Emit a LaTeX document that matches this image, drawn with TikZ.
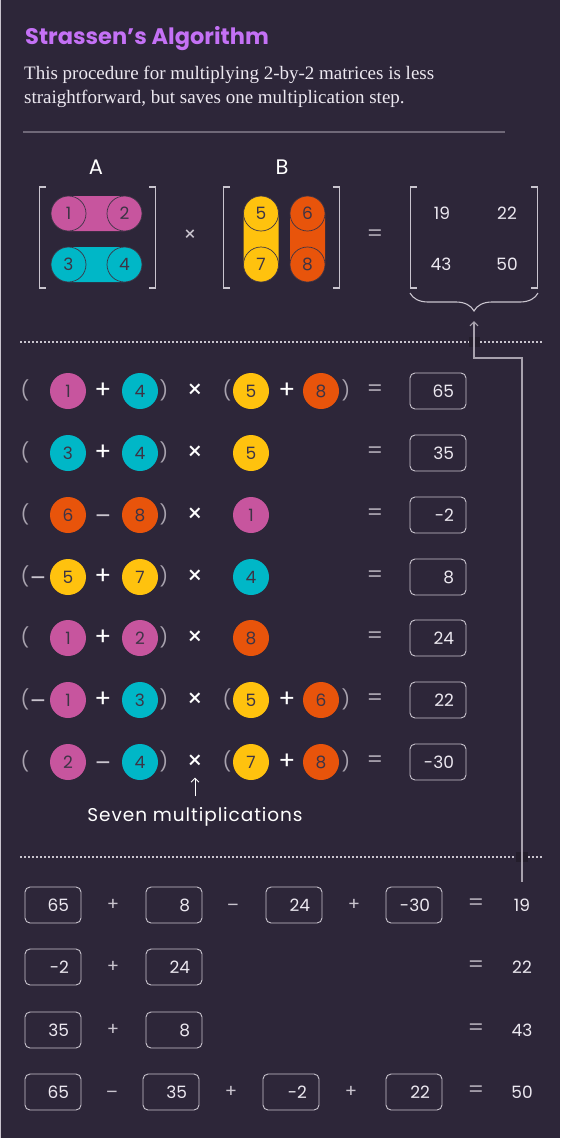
\documentclass[tikz,border=0pt]{standalone}
\usepackage{fontspec}
\setmainfont{Liberation Serif}
\newfontfamily\pop{Poppins}
\usetikzlibrary{arrows.meta,decorations.pathreplacing}
\definecolor{bg}{HTML}{2D2639}
\definecolor{mag}{HTML}{C7559E}
\definecolor{cya}{HTML}{00B7C7}
\definecolor{yel}{HTML}{FFC20E}
\definecolor{ora}{HTML}{E8540B}
\definecolor{ttl}{HTML}{C471F5}
\definecolor{txt}{HTML}{ECE8F0}
\definecolor{dig}{HTML}{3D3445}
\definecolor{lgr}{HTML}{C9C4CE}
\definecolor{mgr}{HTML}{A8A2AE}
\definecolor{rule}{HTML}{6F6878}
\definecolor{dsq}{HTML}{241E2C}
\begin{document}
\begin{tikzpicture}[x=1pt,y=-1pt,
  crc/.style={circle,minimum size=36,inner sep=0,text=dig,font=\pop\fontsize{17}{17}\selectfont},
  pc/.style={circle,minimum size=35,inner sep=0,draw=dig,line width=0.7,text=dig,font=\pop\fontsize{17}{17}\selectfont},
  op/.style={text=white,inner sep=0,font=\pop\fontsize{25}{25}\selectfont},
  mop/.style={text=lgr,inner sep=0,yshift=-4.5pt,font=\pop\fontsize{24}{24}\selectfont},
  bop/.style={text=lgr,inner sep=0,font=\pop\fontsize{18}{18}\selectfont},
  bmop/.style={bop,yshift=-3.2pt},
  eq/.style={text=mgr,inner sep=0,font=\pop\fontsize{23}{23}\selectfont},
  par/.style={text=mgr,inner sep=0,font=\pop\fontsize{19}{19}\selectfont},
  num/.style={text=txt,inner sep=0,font=\pop\fontsize{17}{17}\selectfont},
  box/.style={draw=lgr,line width=0.9,rounded corners=5,minimum height=36,text width=32,inner xsep=12,inner ysep=0,align=right,text=txt,font=\pop\fontsize{17}{17}\selectfont},
  brk/.style={draw=lgr,line width=1.3},
  conn/.style={draw=mgr,line width=1.2},
  dots/.style={draw=lgr,line width=1.6,dash pattern=on 1.6pt off 2.4pt}
]
\fill[bg] (0,0) rectangle (560,1138);
\useasboundingbox (0,0) rectangle (560,1138);
\fill[lgr] (0,0) rectangle (1.3,1138);

% title
\node[anchor=base west,inner sep=0,text=ttl,font=\pop\bfseries\fontsize{22.5}{22.5}\selectfont] (title) at (25,44) {Strassen’s Algorithm};
\node[anchor=base west,inner sep=0,text=txt,font=\fontsize{19}{24}\selectfont] (sub1) at (24,79) {This procedure for multiplying 2-by-2 matrices is less};
\node[anchor=base west,inner sep=0,text=txt,font=\fontsize{19}{24}\selectfont] (sub2) at (24,103) {straightforward, but saves one multiplication step.};
\draw[rule,line width=1.5] (23,132) -- (505,132);

% matrix A
\node[text=white,inner sep=0,font=\pop\fontsize{21}{21}\selectfont] (la) at (96,167) {A};
\node[text=white,inner sep=0,font=\pop\fontsize{21}{21}\selectfont] (lb) at (282,167) {B};
\draw[brk] (46,187) -- (39.5,187) -- (39.5,288) -- (46,288);
\draw[brk] (149,187) -- (155.5,187) -- (155.5,288) -- (149,288);
\fill[mag,rounded corners=17.5] (51,196) rectangle (142,231);
\fill[cya,rounded corners=17.5] (51,247) rectangle (142,282);
\node[pc] (a1) at (68.5,213.5) {1};
\node[pc] (a2) at (124.5,213.5) {2};
\node[pc] (a3) at (68.5,264.5) {3};
\node[pc] (a4) at (124.5,264.5) {4};
\node[text=lgr,inner sep=0,font=\pop\fontsize{20}{20}\selectfont] (mx) at (190,236) {×};
% matrix B
\draw[brk] (230,187) -- (223.5,187) -- (223.5,288) -- (230,288);
\draw[brk] (333,187) -- (339.5,187) -- (339.5,288) -- (333,288);
\fill[yel,rounded corners=17.5] (243.5,196) rectangle (278.5,282);
\fill[ora,rounded corners=17.5] (290,196) rectangle (325,282);
\node[pc] (b5) at (261,213.5) {5};
\node[pc] (b7) at (261,264.5) {7};
\node[pc] (b6) at (307.5,213.5) {6};
\node[pc] (b8) at (307.5,264.5) {8};
\node[eq] (meq) at (375,236) {=};
% result
\draw[brk] (417,187) -- (410.5,187) -- (410.5,288) -- (417,288);
\draw[brk] (531,187) -- (537.5,187) -- (537.5,288) -- (531,288);
\node[num] (c11) at (442,213) {19};
\node[num] (c12) at (507,213) {22};
\node[num] (c21) at (441,264) {43};
\node[num] (c22) at (507,264) {50};
\draw[brk,line width=1.1,decorate,decoration={brace,amplitude=18pt,aspect=0.5}] (538,293) -- (410,293);
\coordinate (btip) at (474,321);

% dotted separators
\draw[dots] (20,342) -- (542,342);
\draw[dots] (20,857) -- (542,857);
\fill[dsq] (469,337) rectangle (480,347);
\fill[dsq] (516,852) rectangle (528,862);

% rows
\foreach \y in {391,453,515,577,638,700,762}{
  \node[par] at (25,\y-1) {(};
  \node[par] at (164,\y-1) {)};
  \node[eq] at (375,\y) {=};
}
\foreach \y in {391,700,762}{
  \node[par] at (227,\y-1) {(};
  \node[par] at (346,\y-1) {)};
}
% row 1
\node[crc,fill=mag] (r1a) at (68,391) {1};
\node[op] (r1p) at (103,391) {+};
\node[crc,fill=cya] (r1b) at (140,391) {4};
\node[op] (r1x) at (195,391) {×};
\node[crc,fill=yel] (r1c) at (251,391) {5};
\node[op] (r1q) at (287,391) {+};
\node[crc,fill=ora] (r1d) at (321,391) {8};
\node[box] (m1) at (438,391) {65};
% row 2
\node[crc,fill=cya] (r2a) at (68,453) {3};
\node[op] (r2p) at (103,453) {+};
\node[crc,fill=cya] (r2b) at (140,453) {4};
\node[op] (r2x) at (195,453) {×};
\node[crc,fill=yel] (r2c) at (251,453) {5};
\node[box] (m2) at (438,453) {35};
% row 3
\node[crc,fill=ora] (r3a) at (68,515) {6};
\node[mop] (r3p) at (103,515) {–};
\node[crc,fill=ora] (r3b) at (140,515) {8};
\node[op] (r3x) at (195,515) {×};
\node[crc,fill=mag] (r3c) at (251,515) {1};
\node[box] (m3) at (438,515) {-2};
% row 4
\node[mop] (r4n) at (38,577) {–};
\node[crc,fill=yel] (r4a) at (68,577) {5};
\node[op] (r4p) at (103,577) {+};
\node[crc,fill=yel] (r4b) at (140,577) {7};
\node[op] (r4x) at (195,577) {×};
\node[crc,fill=cya] (r4c) at (251,577) {4};
\node[box] (m4) at (438,577) {8};
% row 5
\node[crc,fill=mag] (r5a) at (68,638) {1};
\node[op] (r5p) at (103,638) {+};
\node[crc,fill=mag] (r5b) at (140,638) {2};
\node[op] (r5x) at (195,638) {×};
\node[crc,fill=ora] (r5c) at (251,638) {8};
\node[box] (m5) at (438,638) {24};
% row 6
\node[mop] (r6n) at (38,700) {–};
\node[crc,fill=mag] (r6a) at (68,700) {1};
\node[op] (r6p) at (103,700) {+};
\node[crc,fill=cya] (r6b) at (140,700) {3};
\node[op] (r6x) at (195,700) {×};
\node[crc,fill=yel] (r6c) at (251,700) {5};
\node[op] (r6q) at (287,700) {+};
\node[crc,fill=ora] (r6d) at (321,700) {6};
\node[box] (m6) at (438,700) {22};
% row 7
\node[crc,fill=mag] (r7a) at (68,762) {2};
\node[mop] (r7p) at (103,762) {–};
\node[crc,fill=cya] (r7b) at (140,762) {4};
\node[op] (r7x) at (195,762) {×};
\node[crc,fill=yel] (r7c) at (251,762) {7};
\node[op] (r7q) at (287,762) {+};
\node[crc,fill=ora] (r7d) at (321,762) {8};
\node[box] (m7) at (438,762) {-30};

\node[text=white,inner sep=0,font=\pop\fontsize{18.5}{18.5}\selectfont\addfontfeatures{LetterSpace=5}] (seven) at (195,817) {Seven multiplications};
\draw[draw=white,line width=1,-{Straight Barb[length=4pt,width=8pt]}] ([yshift=11pt]seven.north) -- ([yshift=-8pt]r7x.south);

% bottom
\node[box] (s1a) at (53,905) {65};
\node[bop] (s1p) at (113,905) {+};
\node[box] (s1b) at (174,905) {8};
\node[bmop] (s1m) at (233,905) {–};
\node[box] (s1c) at (294,905) {24};
\node[bop] (s1q) at (354,905) {+};
\node[box] (s1d) at (414,905) {-30};
\node[eq] (s1e) at (476,905) {=};
\node[num] (v1) at (522,905) {19};

\node[box] (s2a) at (53,967) {-2};
\node[bop] (s2p) at (113,967) {+};
\node[box] (s2b) at (174,967) {24};
\node[eq] (s2e) at (476,967) {=};
\node[num] (v2) at (522,967) {22};

\node[box] (s3a) at (53,1030) {35};
\node[bop] (s3p) at (113,1030) {+};
\node[box] (s3b) at (174,1030) {8};
\node[eq] (s3e) at (476,1030) {=};
\node[num] (v3) at (522,1030) {43};

\node[box] (s4a) at (53,1092) {65};
\node[bmop] (s4m) at (112,1092) {–};
\node[box] (s4b) at (171,1092) {35};
\node[bop] (s4p) at (231,1092) {+};
\node[box] (s4c) at (291,1092) {-2};
\node[bop] (s4q) at (351,1092) {+};
\node[box] (s4d) at (414,1092) {22};
\node[eq] (s4e) at (476,1092) {=};
\node[num] (v4) at (522,1092) {50};

% connector from results to brace
\draw[conn,-{Straight Barb[length=4pt,width=8pt]}] ([yshift=17pt]v1.north) -- (522,358) -- (474,358) -- (btip);
\end{tikzpicture}
\end{document}
